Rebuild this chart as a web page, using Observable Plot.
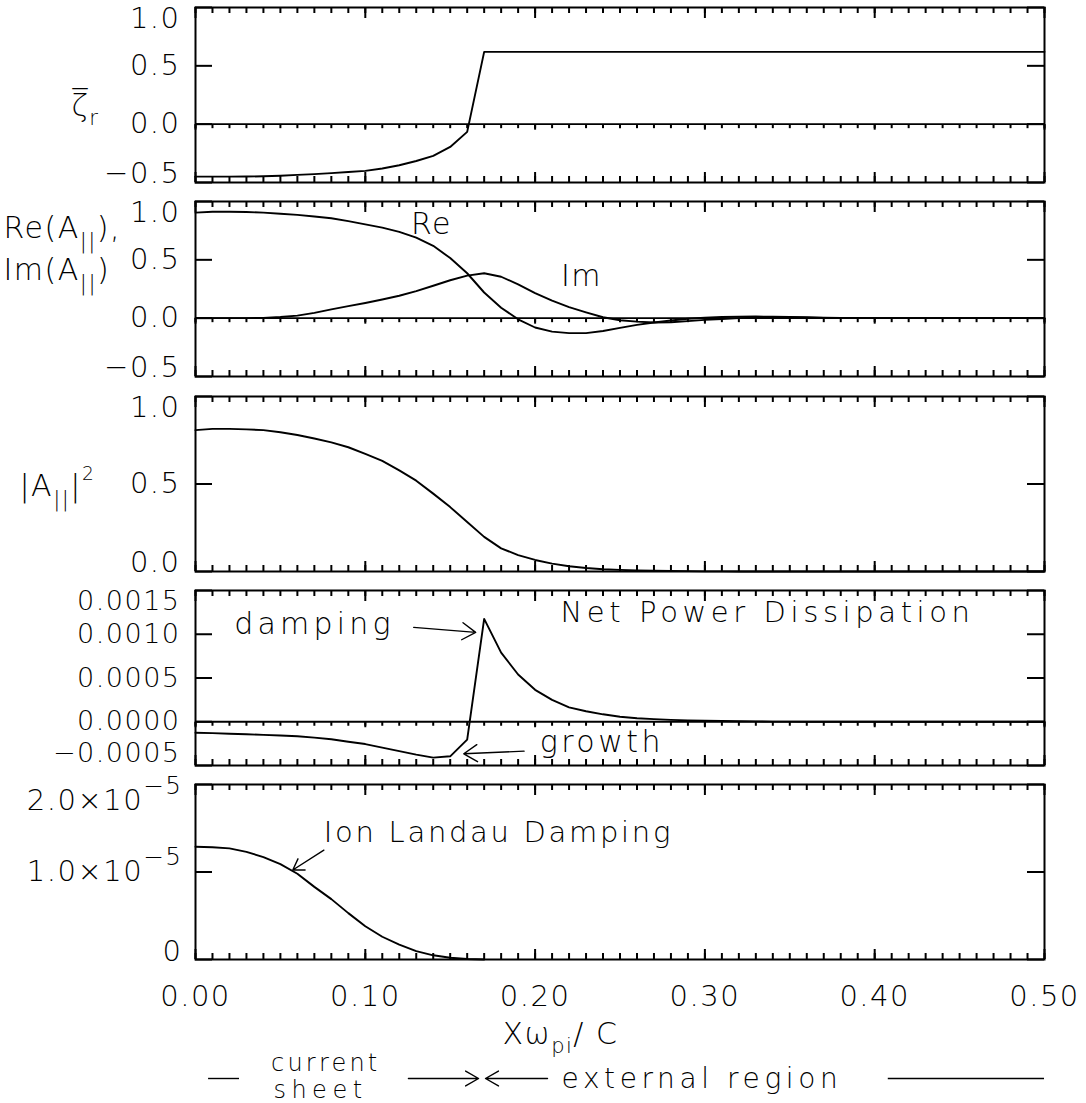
<!DOCTYPE html>
<html><head><meta charset="utf-8">
<script src="https://cdn.jsdelivr.net/npm/d3@7"></script>
<script src="https://cdn.jsdelivr.net/npm/@observablehq/plot@0.6"></script>
<style>
body{margin:0;background:#fff;}
#chart{position:relative;width:1086px;height:1103px;overflow:hidden;background:#fff;}
#chart svg{position:absolute;left:0;overflow:visible;background:transparent;}
</style></head><body><div id="chart"></div>
<script>
// ---------- data ----------
const xMajorTicks = [0, 0.1, 0.2, 0.3, 0.4, 0.5];
const xTickLabels = ["0.00", "0.10", "0.20", "0.30", "0.40", "0.50"];

const zetaX = [0.00,0.01,0.02,0.03,0.04,0.05,0.06,0.07,0.08,0.09,0.10,0.11,0.12,0.13,0.14,0.15,0.16,0.17,0.50];
const zetaR = [-0.450,-0.450,-0.450,-0.449,-0.447,-0.442,-0.435,-0.428,-0.420,-0.410,-0.400,-0.380,-0.352,-0.316,-0.272,-0.195,-0.066,0.620,0.620];

const aX = [0.00,0.01,0.02,0.03,0.04,0.05,0.06,0.07,0.08,0.09,0.10,0.11,0.12,0.13,0.14,0.15,0.16,0.17,0.18,0.19,0.20,0.21,0.22,0.23,0.24,0.25,0.26,0.27,0.28,0.29,0.30,0.31,0.32,0.33,0.34,0.35,0.36,0.37,0.38,0.39,0.40,0.45,0.50];
const reA = [0.905,0.912,0.912,0.910,0.905,0.895,0.885,0.872,0.856,0.832,0.804,0.776,0.740,0.690,0.620,0.515,0.385,0.220,0.090,-0.010,-0.080,-0.115,-0.128,-0.128,-0.110,-0.083,-0.058,-0.037,-0.020,-0.005,0.004,0.010,0.013,0.014,0.013,0.011,0.008,0.004,0.002,0.001,0.000,0.000,0.000];
const imA = [0,0,0,0,0.002,0.010,0.022,0.045,0.075,0.103,0.130,0.160,0.192,0.232,0.278,0.325,0.365,0.385,0.355,0.290,0.215,0.150,0.095,0.050,0.008,-0.018,-0.030,-0.037,-0.035,-0.025,-0.015,-0.007,0.000,0.004,0.006,0.006,0.004,0.002,0.001,0,0,0,0];
const absA2 = [0.808,0.815,0.815,0.812,0.808,0.796,0.780,0.760,0.738,0.710,0.672,0.632,0.578,0.519,0.445,0.368,0.283,0.198,0.132,0.094,0.066,0.045,0.030,0.020,0.013,0.009,0.006,0.004,0.003,0.002,0.001,0.001,0,0,0,0,0,0,0,0,0,0,0];
const power = [-0.000125,-0.00013,-0.000137,-0.000143,-0.00015,-0.000157,-0.000166,-0.000182,-0.0002,-0.000228,-0.000255,-0.000295,-0.000335,-0.000375,-0.00041,-0.000395,-0.000205,0.001175,0.00079,0.00054,0.000365,0.00025,0.000165,0.00012,0.000085,0.000057,0.00004,0.00003,0.000022,0.000016,0.000012,0.000009,0.000006,0.000004,0.000002,0.000001,0,0,0,0,0,0,0];

const landauX = [0.00,0.01,0.02,0.03,0.04,0.05,0.06,0.07,0.08,0.09,0.10,0.11,0.12,0.13,0.14,0.15,0.16,0.17];
const landau = [1.288e-5,1.283e-5,1.27e-5,1.23e-5,1.17e-5,1.09e-5,0.98e-5,0.83e-5,0.69e-5,0.53e-5,0.38e-5,0.26e-5,0.17e-5,0.095e-5,0.048e-5,0.02e-5,0.005e-5,0];

const p1Ticks = [1.0, 0.5, 0.0, -0.5], p1Labels = ["1.0", "0.5", "0.0", "−0.5"];
const p2Ticks = [1.0, 0.5, 0.0, -0.5], p2Labels = ["1.0", "0.5", "0.0", "−0.5"];
const p3Ticks = [1.0, 0.5, 0.0], p3Labels = ["1.0", "0.5", "0.0"];
const p4Ticks = [0.0015, 0.0010, 0.0005, 0.0, -0.0005], p4Labels = ["0.0015", "0.0010", "0.0005", "0.0000", "−0.0005"];
const p5Ticks = [2e-5, 1e-5, 0], p5Labels = ["2.0×10^{−5}", "1.0×10^{−5}", "0"];

// ---------- helpers ----------
const xMinorTicks = d3.range(0, 51).map(i => i / 100);
const pts = (xs, ys) => xs.map((x, i) => ({x, y: ys[i]}));
const FONT = "'DejaVu Sans', 'Liberation Sans', sans-serif";
const PH = 175, PW = 1086 - 195 - 42;
const TW = 2; // tick stroke width

const spacing = {"Net Power Dissipation": 4.6, "damping": 4.2, "growth": 3.5, "external region": 4.6,
  "Ion Landau Damping": 2.7, "current": 3.2, "sheet": 5.5};

function rich(svg) {
  const NS = "http://www.w3.org/2000/svg";
  svg.querySelectorAll("text").forEach(t => {
    const s = t.textContent;
    if (spacing[s] != null) t.setAttribute("letter-spacing", spacing[s] + "px");
    if (!/[_^~]\{/.test(s)) return;
    while (t.firstChild) t.removeChild(t.firstChild);
    const re = /([_^~])\{([^}]*)\}/g;
    let last = 0, m, pend = 0;
    const add = (str, attrs) => {
      const ts = document.createElementNS(NS, "tspan");
      ts.textContent = str;
      for (const k in attrs) ts.setAttribute(k, attrs[k]);
      t.appendChild(ts);
    };
    while ((m = re.exec(s))) {
      if (m.index > last) { add(s.slice(last, m.index), pend ? {dy: pend + "em"} : {}); pend = 0; }
      if (m[1] === "_") { add(m[2], {"font-size": "70%", dy: (pend / 0.7 + 0.45) + "em"}); pend = -0.315; }
      else if (m[1] === "^") { add(m[2], {"font-size": "85%", dy: (pend / 0.85 - 0.66) + "em"}); pend = 0.561; }
      else { add(m[2], {"font-size": "62%", dy: (pend / 0.62 - 0.85) + "em", "letter-spacing": "0px"}); pend = 0.527; }
      last = re.lastIndex;
    }
    if (last < s.length) add(s.slice(last), pend ? {dy: pend + "em"} : {});
  });
}

function panel({top, domain, ticks, labels, zero, marks, mt = 10, mb = 10, labelDx = -15, topDy = 11, botDy = -9, labelSize = 29}) {
  const n = ticks.length;
  const k = (domain[1] - domain[0]) / PH; // data units per pixel (tick lengths on the zero line)
  const lab = (vals, labs, dy) => Plot.text(vals.map((v, i) => ({v, t: labs[i]})),
    {y: "v", text: "t", frameAnchor: "left", dx: labelDx, dy, textAnchor: "end", lineAnchor: "middle", fontSize: labelSize});
  const all = [
    // x ticks: top edge (pointing down), bottom edge (pointing up)
    Plot.ruleX(xMinorTicks, {x: d => d, insetBottom: PH - 6, strokeWidth: TW}),
    Plot.ruleX(xMajorTicks, {x: d => d, insetBottom: PH - 11, strokeWidth: TW}),
    Plot.ruleX(xMinorTicks, {x: d => d, insetTop: PH - 6, strokeWidth: TW}),
    Plot.ruleX(xMajorTicks, {x: d => d, insetTop: PH - 10, strokeWidth: TW}),
    // y major ticks on both sides
    Plot.ruleY(ticks, {y: d => d, insetRight: PW - 17, strokeWidth: TW}),
    Plot.ruleY(ticks, {y: d => d, insetLeft: PW - 17, strokeWidth: TW}),
    lab(ticks.slice(0, 1), labels.slice(0, 1), topDy),
    lab(ticks.slice(1, n - 1), labels.slice(1, n - 1), 0),
    lab(ticks.slice(n - 1), labels.slice(n - 1), botDy)
  ];
  if (zero) all.push(
    Plot.ruleY([0], {strokeWidth: 1.8}),
    Plot.link(xMinorTicks, {x1: d => d, x2: d => d, y1: () => 0, y2: () => -4 * k, strokeWidth: TW}),
    Plot.link(xMajorTicks, {x1: d => d, x2: d => d, y1: () => 0, y2: () => -5.5 * k, strokeWidth: TW})
  );
  all.push(...marks, Plot.frame({strokeWidth: 2}));
  const svg = Plot.plot({
    width: 1086, height: mt + PH + mb,
    marginLeft: 195, marginRight: 42, marginTop: mt, marginBottom: mb,
    x: {domain: [0, 0.5], axis: null},
    y: {domain, axis: null},
    style: {fontFamily: FONT, fontWeight: 200, letterSpacing: "1.5px", background: "transparent", overflow: "visible", color: "black"},
    marks: all
  });
  rich(svg);
  svg.style.top = (top - mt) + "px";
  document.getElementById("chart").appendChild(svg);
}

const LW = 1.9, AW = 1.4;
// Panel 1: zeta_r
panel({top: 7, mt: 7, domain: [-0.5, 1], ticks: p1Ticks, labels: p1Labels, zero: true, marks: [
  Plot.line(pts(zetaX, zetaR), {x: "x", y: "y", strokeWidth: LW}),
  Plot.text(["ζ\u0305_{r}"], {frameAnchor: "left", y: 0.072, dx: -124, textAnchor: "start", lineAnchor: "bottom", fontSize: 30})
]});

// Panel 2: Re / Im
panel({top: 201, domain: [-0.5, 1], ticks: p2Ticks, labels: p2Labels, zero: true, marks: [
  Plot.line(pts(aX, reA), {x: "x", y: "y", strokeWidth: LW}),
  Plot.line(pts(aX, imA), {x: "x", y: "y", strokeWidth: LW}),
  Plot.text(["Re"], {x: 0.139, y: 0.80, lineAnchor: "middle", fontSize: 30}),
  Plot.text(["Im"], {x: 0.2273, y: 0.356, lineAnchor: "middle", fontSize: 30}),
  Plot.text(["Re(A_{||}),"], {frameAnchor: "left", y: 0.684, dx: -192, textAnchor: "start", lineAnchor: "bottom", fontSize: 30}),
  Plot.text(["Im(A_{||})"], {frameAnchor: "left", y: 0.324, dx: -192, textAnchor: "start", lineAnchor: "bottom", fontSize: 30})
]});

// Panel 3: |A|^2
panel({top: 396, domain: [0, 1], ticks: p3Ticks, labels: p3Labels, zero: false, marks: [
  Plot.line(pts(aX, absA2), {x: "x", y: "y", strokeWidth: LW}),
  Plot.text(["|A_{||}|~{2}"], {frameAnchor: "left", y: 0.431, dx: -176, textAnchor: "start", lineAnchor: "bottom", fontSize: 30})
]});

// Panel 4: net power dissipation
panel({top: 590, domain: [-0.0005, 0.0015], ticks: p4Ticks, labels: p4Labels, zero: true, botDy: -12, labelSize: 27, marks: [
  Plot.line(pts(aX, power), {x: "x", y: "y", strokeWidth: LW}),
  Plot.text(["damping"], {x: 0.0228, y: 0.001, textAnchor: "start", lineAnchor: "bottom", fontSize: 30}),
  Plot.text(["Net Power Dissipation"], {x: 0.215, y: 0.00114, textAnchor: "start", lineAnchor: "bottom", fontSize: 29}),
  Plot.text(["growth"], {x: 0.2027, y: -0.000351, textAnchor: "start", lineAnchor: "bottom", fontSize: 30}),
  Plot.arrow([0], {x1: 0.1285, y1: 0.001079, x2: 0.165, y2: 0.001022, headLength: 17, headAngle: 65, strokeWidth: AW}),
  Plot.arrow([0], {x1: 0.1935, y1: -0.000336, x2: 0.158, y2: -0.000366, headLength: 17, headAngle: 65, strokeWidth: AW})
]});

// Panel 5: ion Landau damping + x axis and region annotation
panel({top: 784, mt: 25, mb: 1103 - 784 - PH, domain: [0, 2e-5], ticks: p5Ticks, labels: p5Labels, zero: false, labelDx: -13, topDy: 16, botDy: -8, marks: [
  Plot.line(pts(landauX, landau), {x: "x", y: "y", strokeWidth: LW}),
  Plot.text(["Ion Landau Damping"], {x: 0.0756, y: 1.34e-5, textAnchor: "start", lineAnchor: "bottom", fontSize: 29}),
  Plot.arrow([0], {x1: 0.0756, y1: 1.25e-5, x2: 0.0573, y2: 1.023e-5, headLength: 16, headAngle: 65, strokeWidth: AW}),
  Plot.text(xMajorTicks, {x: d => d, text: (d, i) => xTickLabels[i], frameAnchor: "bottom", dy: 26, lineAnchor: "top", fontSize: 29}),
  Plot.text(["Xω_{pi}/ C"], {x: 0.1808, frameAnchor: "bottom", dy: 84, textAnchor: "start", lineAnchor: "bottom", fontSize: 30}),
  Plot.text(["current"], {x: 0.0767, frameAnchor: "bottom", dy: 111, lineAnchor: "bottom", fontSize: 24}),
  Plot.text(["sheet"], {x: 0.0736, frameAnchor: "bottom", dy: 138, lineAnchor: "bottom", fontSize: 24}),
  Plot.text(["external region"], {x: 0.2156, frameAnchor: "bottom", dy: 128, textAnchor: "start", lineAnchor: "bottom", fontSize: 28}),
  Plot.ruleY([0], {x1: 0.0077, x2: 0.0259, dy: 119, strokeWidth: AW}),
  Plot.ruleY([0], {x1: 0.408, x2: 0.5, dy: 119, strokeWidth: AW}),
  Plot.arrow([0], {x1: 0.1254, x2: 0.1667, y1: 0, y2: 0, dy: 119, headLength: 16, headAngle: 60, strokeWidth: AW}),
  Plot.arrow([0], {x1: 0.2073, x2: 0.1708, y1: 0, y2: 0, dy: 119, headLength: 16, headAngle: 60, strokeWidth: AW})
]});
</script></body></html>
